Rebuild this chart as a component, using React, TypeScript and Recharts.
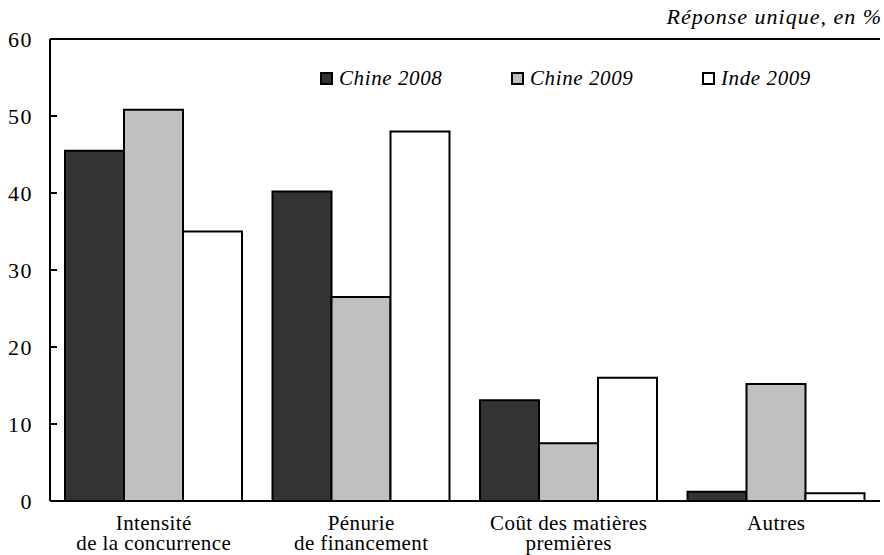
import { Bar, BarChart, ReferenceLine, XAxis, YAxis } from "recharts";

const categories = [
  ["Intensité", "de la concurrence"],
  ["Pénurie", "de financement"],
  ["Coût des matières", "premières"],
  ["Autres"],
];
const chine2008 = [45.5, 40.2, 13.1, 1.2];
const chine2009 = [50.8, 26.5, 7.5, 15.2];
const inde2009 = [35.0, 48.0, 16.0, 1.0];
const yTicks = [0, 10, 20, 30, 40, 50, 60];

const seriesInfo = [
  { key: "chine2008", name: "Chine 2008", fill: "#333333" },
  { key: "chine2009", name: "Chine 2009", fill: "#c0c0c0" },
  { key: "inde2009", name: "Inde 2009", fill: "#ffffff" },
];

const data = categories.map((lines, i) => ({
  label: lines.join("\n"),
  chine2008: chine2008[i],
  chine2009: chine2009[i],
  inde2009: inde2009[i],
}));

const FONT = "'Liberation Serif', 'Times New Roman', serif";

function CategoryTick(props: any) {
  const { x, y, payload } = props;
  const lines = String(payload.value).split("\n");
  return (
    <text
      x={x}
      y={y}
      textAnchor="middle"
      fontFamily={FONT}
      fontSize={21}
      letterSpacing={0.4}
      fill="#000"
    >
      {lines.map((line, i) => (
        <tspan key={i} x={x} dy={i === 0 ? 29 : 20}>
          {line}
        </tspan>
      ))}
    </text>
  );
}

function LegendBox() {
  return (
    <div
      style={{
        position: "absolute",
        left: 320,
        top: 66,
        display: "flex",
        fontFamily: FONT,
        fontSize: 21,
        fontStyle: "italic",
        letterSpacing: 0.6,
        lineHeight: "24px",
      }}
    >
      {seriesInfo.map((s) => (
        <div key={s.key} style={{ width: 191, display: "flex", alignItems: "center" }}>
          <span
            style={{
              display: "inline-block",
              width: 9,
              height: 9,
              border: "2px solid #000",
              background: s.fill,
              marginRight: 6,
            }}
          />
          <span>{s.name}</span>
        </div>
      ))}
    </div>
  );
}

export default function App() {
  return (
    <div style={{ position: "absolute", left: 0, top: 0, width: 884, height: 555, background: "#fff" }}>
      <div
        style={{
          position: "absolute",
          right: 2,
          top: 4,
          fontFamily: FONT,
          fontSize: 22,
          fontStyle: "italic",
          letterSpacing: 1,
          lineHeight: "26px",
        }}
      >
        Réponse unique, en %
      </div>
      <BarChart
        width={884}
        height={555}
        data={data}
        margin={{ top: 39, right: 4, bottom: 0, left: 0 }}
        barCategoryGap={15}
        barGap={0}
      >
        <XAxis
          dataKey="label"
          height={54}
          axisLine={{ stroke: "#000", strokeWidth: 2 }}
          tickLine={false}
          tickSize={0}
          tickMargin={0}
          tick={<CategoryTick />}
          interval={0}
        />
        <YAxis
          width={50}
          domain={[0, 60]}
          ticks={yTicks}
          interval={0}
          axisLine={{ stroke: "#000", strokeWidth: 2 }}
          tickLine={{ stroke: "#000", strokeWidth: 2 }}
          tickSize={-7}
          tickMargin={24}
          tick={{ fill: "#000", fontFamily: FONT, fontSize: 22, letterSpacing: 1.5 }}
        />
        <YAxis
          yAxisId="right"
          orientation="right"
          width={0}
          domain={[0, 60]}
          axisLine={{ stroke: "#000", strokeWidth: 2 }}
          tickLine={false}
          tick={false}
        />
        <ReferenceLine y={60} stroke="#000" strokeWidth={2} />
        {seriesInfo.map((s) => (
          <Bar
            key={s.key}
            dataKey={s.key}
            name={s.name}
            fill={s.fill}
            stroke="#000"
            strokeWidth={2}
            isAnimationActive={false}
          />
        ))}
      </BarChart>
      <LegendBox />
    </div>
  );
}
